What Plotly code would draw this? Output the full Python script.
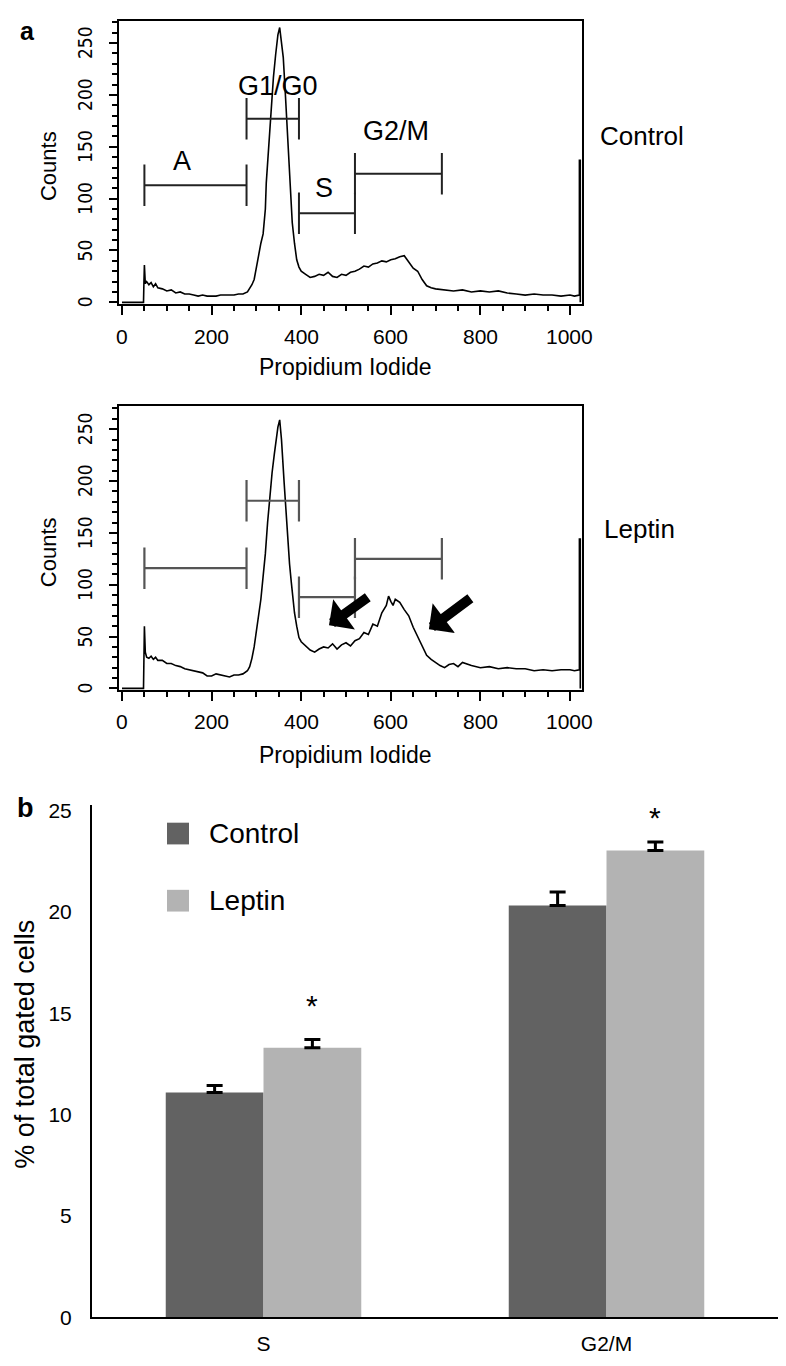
import plotly.graph_objects as go

# ---------------- Panel a: DNA histograms (Propidium Iodide) ----------------
control_ch = [0, 48, 49, 50, 52, 55, 60, 65, 70, 75, 80, 90, 100, 110, 120, 130, 140, 150, 160, 170,
              180, 190, 200, 210, 220, 230, 240, 250, 260, 270, 280, 285, 290, 295, 300, 305, 310, 315,
              320, 322, 328, 333, 338, 343, 348, 352, 356, 360, 365, 370, 375, 380, 385, 390, 395, 400,
              410, 420, 430, 440, 450, 460, 470, 480, 490, 500, 510, 520, 530, 540, 550, 560, 570, 580,
              590, 600, 610, 620, 630, 640, 650, 660, 670, 680, 690, 700, 720, 740, 760, 780, 800, 820,
              840, 860, 880, 900, 920, 940, 960, 980, 1000, 1010, 1021, 1021, 1023, 1023]
control_counts = [0, 0, 20, 36, 18, 20, 17, 19, 15, 18, 14, 13, 11, 12, 9, 10, 8, 8, 7, 6,
                  7, 6, 6, 6, 7, 7, 7, 7, 8, 8, 10, 13, 17, 22, 35, 45, 57, 66,
                  90, 115, 153, 188, 217, 239, 258, 265, 249, 236, 198, 156, 105, 77, 57, 41, 34, 30,
                  27, 24, 25, 27, 26, 29, 25, 24, 27, 26, 29, 30, 32, 35, 34, 37, 38, 40,
                  39, 41, 42, 44, 45, 39, 33, 30, 22, 16, 14, 13, 12, 11, 12, 10, 11, 10,
                  11, 9, 8, 7, 8, 7, 7, 6, 7, 6, 7, 137, 137, 0]

leptin_ch = [0, 48, 49, 50, 52, 55, 60, 65, 70, 75, 80, 90, 100, 110, 120, 130, 140, 150, 160, 170,
             180, 190, 200, 210, 220, 230, 240, 250, 260, 270, 280, 285, 290, 295, 300, 305, 310, 315,
             320, 325, 330, 335, 340, 345, 348, 352, 356, 362, 366, 370, 374, 378, 382, 385, 390, 395,
             400, 410, 420, 430, 440, 450, 460, 470, 480, 490, 500, 510, 520, 530, 540, 550, 560, 570,
             580, 590, 595, 600, 605, 610, 620, 630, 640, 650, 660, 670, 680, 690, 700, 710, 720, 730,
             740, 750, 760, 780, 800, 820, 840, 860, 880, 900, 920, 940, 960, 980, 1000, 1010, 1021,
             1021, 1023, 1023]
leptin_counts = [0, 0, 30, 60, 35, 30, 29, 31, 28, 30, 27, 27, 24, 24, 22, 21, 19, 18, 17, 16,
                 15, 12, 12, 14, 13, 12, 11, 13, 13, 14, 17, 21, 29, 40, 54, 68, 86, 108,
                 130, 160, 188, 208, 226, 242, 252, 259, 240, 198, 170, 144, 120, 102, 85, 73, 60, 49,
                 45, 41, 37, 35, 38, 40, 39, 43, 38, 42, 44, 41, 46, 48, 54, 52, 62, 60,
                 73, 80, 89, 84, 80, 86, 83, 76, 70, 59, 50, 42, 32, 28, 25, 22, 20, 23,
                 24, 21, 25, 22, 20, 21, 19, 20, 19, 19, 17, 18, 17, 18, 18, 17, 18,
                 144, 144, 0]

# gate markers
gate_names = ["A", "G1/G0", "S", "G2/M"]
gate_lo = [50, 278, 395, 520]
gate_hi = [278, 395, 520, 714]
gate_level_control = [113, 177, 86, 124]
gate_level_leptin = [116, 181, 88, 125]
gate_label_x = [134, 348, 451, 612]
gate_label_y = [136, 209, 110, 165]

# arrows (leptin panel): tip and tail positions in data units
arrow_tip_ch = [462, 685]
arrow_tip_counts = [61, 57]
arrow_tail_ch = [552, 781]
arrow_tail_counts = [89, 88]

hist_yticks = [0, 50, 100, 150, 200, 250]
hist_xticks = [0, 200, 400, 600, 800, 1000]

# ---------------- Panel b: bar chart ----------------
phases = ["S", "G2/M"]
control_pct = [11.1, 20.32]
control_err = [0.34, 0.67]
leptin_pct = [13.3, 23.04]
leptin_err = [0.41, 0.42]

# The page body keeps the browser's default 8px margin; size the figure to fit inside the window.
OFF = 8
W, H = 786 - 2 * OFF, 1366 - 2 * OFF
FONT = "Liberation Sans, Arial, Helvetica, sans-serif"
NARROW = "Liberation Sans Narrow, Arial Narrow, DejaVu Sans Condensed, Liberation Sans, sans-serif"


def px(x):
    return (x - OFF) / W


def py(y):
    return 1 - (y - OFF) / H


def gate_xy(lo, hi, lvl, half=20):
    xs, ys = [], []
    for l, h, v in zip(lo, hi, lvl):
        xs += [l, h, None, l, l, None, h, h, None]
        ys += [v, v, None, v - half, v + half, None, v - half, v + half, None]
    return xs, ys


fig = go.Figure()

# histograms
fig.add_trace(go.Scatter(x=control_ch, y=control_counts, mode="lines",
                         line=dict(color="black", width=1.6), xaxis="x", yaxis="y",
                         showlegend=False, hoverinfo="skip"))
gx, gy = gate_xy(gate_lo, gate_hi, gate_level_control)
fig.add_trace(go.Scatter(x=gx, y=gy, mode="lines", line=dict(color="#222", width=2),
                         xaxis="x", yaxis="y", showlegend=False, hoverinfo="skip"))

fig.add_trace(go.Scatter(x=leptin_ch, y=leptin_counts, mode="lines",
                         line=dict(color="black", width=1.6), xaxis="x2", yaxis="y2",
                         showlegend=False, hoverinfo="skip"))
gx2, gy2 = gate_xy(gate_lo, gate_hi, gate_level_leptin)
fig.add_trace(go.Scatter(x=gx2, y=gy2, mode="lines", line=dict(color="#555", width=2.2),
                         xaxis="x2", yaxis="y2", showlegend=False, hoverinfo="skip"))

# bars
fig.add_trace(go.Bar(x=phases, y=control_pct, name="Control", marker=dict(color="#626262", line=dict(width=0)),
                     error_y=dict(type="data", array=control_err, arrayminus=[0, 0], symmetric=False,
                                  color="black", thickness=3, width=8),
                     xaxis="x3", yaxis="y3", showlegend=False))
fig.add_trace(go.Bar(x=phases, y=leptin_pct, name="Leptin", marker=dict(color="#b3b3b3", line=dict(width=0)),
                     error_y=dict(type="data", array=leptin_err, arrayminus=[0, 0], symmetric=False,
                                  color="black", thickness=3, width=8),
                     xaxis="x3", yaxis="y3", showlegend=False))

hist_x = dict(range=[-6.7, 1026.8], showline=True, linecolor="black", linewidth=2, mirror=True,
              ticks="outside", ticklen=9, tickwidth=2, tickcolor="black",
              tickvals=hist_xticks, showticklabels=False,
              minor=dict(tickvals=list(range(0, 1001, 50)), ticks="outside", ticklen=5, tickwidth=1.5,
                         tickcolor="black"),
              showgrid=False, zeroline=False)
hist_y = dict(showline=True, linecolor="black", linewidth=2, mirror=True,
              ticks="outside", ticklen=8, tickwidth=2, tickcolor="black",
              tickvals=hist_yticks, showticklabels=False,
              minor=dict(tickvals=list(range(0, 271, 10)), ticks="outside", ticklen=5, tickwidth=1.5,
                         tickcolor="black"),
              showgrid=False, zeroline=False)

fig.update_layout(
    width=W, height=H, margin=dict(l=0, r=0, t=0, b=0),
    paper_bgcolor="white", plot_bgcolor="white",
    font=dict(family=FONT, color="black"),
    bargap=0.43, bargroupgap=0, barmode="group", showlegend=False,
    xaxis=dict(domain=[px(119), px(582)], anchor="y", **hist_x),
    yaxis=dict(domain=[py(302), py(15)], anchor="x", range=[-1.9, 271.4], **hist_y),
    xaxis2=dict(domain=[px(119), px(582)], anchor="y2", **hist_x),
    yaxis2=dict(domain=[py(693), py(405)], anchor="x2", range=[-1.9, 272.4], **hist_y),
    xaxis3=dict(domain=[px(92), 1.0], anchor="y3", range=[-0.5, 1.5], showline=True, linecolor="black",
                linewidth=2, ticks="", showgrid=False, zeroline=False, ticklabelstandoff=6,
                tickfont=dict(family=FONT, size=21, color="black")),
    yaxis3=dict(domain=[py(1328), py(809)], anchor="x3", range=[0, 25.29], showline=True, linecolor="black",
                linewidth=2, ticks="", tickvals=list(range(0, 26, 5)), showgrid=False, zeroline=False,
                ticklabelstandoff=14, tickfont=dict(family=FONT, size=21, color="black")),
)


def note(text, x, y, size, family=FONT, **kw):
    d = dict(text=text, x=x, y=y, xref="paper", yref="paper", showarrow=False,
             xanchor="center", yanchor="middle", font=dict(size=size, family=family, color="black"))
    d.update(kw)
    return d


ann = []
# panel letters
ann.append(note("<b>a</b>", px(27), py(9), 25, yanchor="top"))
ann.append(note("<b>b</b>", px(25), py(812), 27))
# histogram axis titles and tick labels
for xref, yref, lab_y, title_y, counts_y in (("x", "y", 335, 366, 162), ("x2", "y2", 725, 758, 553)):
    ann.append(note("Propidium Iodide", px(345), py(title_y), 23))
    ann.append(note("Counts", px(48), py(counts_y), 22, textangle=-90))
    for v in hist_xticks:
        ann.append(dict(text=str(v), x=v, y=py(lab_y), xref=xref, yref="paper", showarrow=False,
                        xanchor="center", yanchor="middle",
                        font=dict(size=21, family=FONT, color="black")))
    for v in hist_yticks:
        ann.append(dict(text=str(v), x=px(85), y=v, xref="paper", yref=yref, showarrow=False,
                        xanchor="center", yanchor="middle", textangle=-90,
                        font=dict(size=19, family=NARROW, color="black")))
# condition labels
ann.append(note("Control", px(598), py(132), 26, xanchor="left"))
ann.append(note("Leptin", px(602), py(530), 26, xanchor="left"))
# gate labels
for name, lx, ly in zip(gate_names, gate_label_x, gate_label_y):
    ann.append(dict(text=name, x=lx, y=ly, xref="x", yref="y", showarrow=False,
                    xanchor="center", yanchor="middle", font=dict(size=27, family=FONT, color="black")))
# arrows
for tx, ty, ax_, ay_ in zip(arrow_tip_ch, arrow_tip_counts, arrow_tail_ch, arrow_tail_counts):
    ann.append(dict(text="", x=tx, y=ty, xref="x2", yref="y2", ax=ax_, ay=ay_, axref="x2", ayref="y2",
                    showarrow=True, arrowhead=1, arrowwidth=10, arrowsize=0.62, arrowcolor="black",
                    standoff=0, startstandoff=0))
# bar chart y title
ann.append(note("% of total gated cells", px(25), py(1052), 27, textangle=-90))
# significance asterisks above leptin bars
lep_off = (1 - 0.43) / 4
for i, (v, e, ys) in enumerate(zip(leptin_pct, leptin_err, [34, 24])):
    ann.append(dict(text="*", x=i + lep_off, y=v + e, xref="x3", yref="y3", yshift=ys, showarrow=False,
                    xanchor="center", yanchor="middle", font=dict(size=30, family=FONT, color="black")))
# legend
legend_y = [838, 906]
for (name, col), ly in zip([("Control", "#626262"), ("Leptin", "#b3b3b3")], legend_y):
    fig.add_shape(type="rect", xref="paper", yref="paper", x0=px(167), x1=px(189), y0=py(ly - 11),
                  y1=py(ly + 11), fillcolor=col, line=dict(width=0))
    ann.append(note(name, px(207), py(ly), 28, xanchor="left"))

fig.update_layout(annotations=ann)
fig.write_html("out.html")
